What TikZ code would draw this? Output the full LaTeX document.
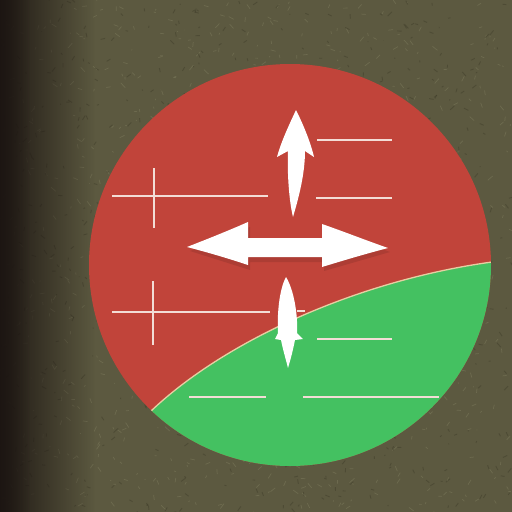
\documentclass[tikz,border=0pt]{standalone}
\usetikzlibrary{calc,fadings}
\definecolor{grass}{HTML}{5C5940}
\definecolor{grassdark}{HTML}{1C1512}
\definecolor{grasslight}{HTML}{8E8C6C}
\definecolor{grassdeep}{HTML}{3A3826}
\definecolor{discred}{HTML}{C1443A}
\definecolor{discgreen}{HTML}{44C161}
\definecolor{mark}{HTML}{F3DDD6}
\definecolor{seam}{HTML}{E6CFA2}
\tikzfading[name=fadeleft, left color=transparent!0, right color=transparent!100]
\tikzset{
  markline/.style={draw=mark, line width=1.8pt},
  arrowshape/.style={fill=white, draw=none},
}
\begin{document}
\begin{tikzpicture}[x=1pt,y=-1pt]
\useasboundingbox (0,0) rectangle (512,512);
% grass background
\fill[grass] (0,0) rectangle (512,512);
\pgfmathsetseed{7}
\foreach \i in {1,...,900}{
  \pgfmathsetmacro{\xa}{rnd*512}
  \pgfmathsetmacro{\ya}{rnd*512}
  \pgfmathsetmacro{\dx}{(rnd-0.5)*10}
  \pgfmathsetmacro{\dy}{(rnd-0.5)*10}
  \draw[grasslight, opacity=0.35, line width=0.7pt] (\xa,\ya) -- ++(\dx,\dy);
}
\foreach \i in {1,...,700}{
  \pgfmathsetmacro{\xa}{rnd*512}
  \pgfmathsetmacro{\ya}{rnd*512}
  \pgfmathsetmacro{\dx}{(rnd-0.5)*9}
  \pgfmathsetmacro{\dy}{(rnd-0.5)*9}
  \draw[grassdeep, opacity=0.4, line width=0.9pt] (\xa,\ya) -- ++(\dx,\dy);
}
\fill[grassdark, path fading=fadeleft, fill opacity=0.95] (0,0) rectangle (95,512);
\fill[grassdark, path fading=fadeleft, fill opacity=0.7] (0,0) rectangle (30,512);
% disc
\coordinate (c) at (290,265);
\fill[discred] (c) circle[radius=201];
\begin{scope}
  \clip (c) circle[radius=201];
  \fill[discgreen] (150,412) .. controls (225,340) and (360,280) .. (492,262)
      -- (520,262) -- (520,520) -- (100,520) -- (100,440) -- cycle;
  \draw[seam, line width=1.3pt] (150,412) .. controls (225,340) and (360,280) .. (492,262);
\end{scope}
% marking lines
\draw[markline] (317,140) -- (392,140);
\draw[markline] (316,198) -- (392,198);
\draw[markline] (112,196) -- (268,196);
\draw[markline] (154,168) -- (154,228);
\draw[markline] (112,312) -- (270,312);
\draw[markline] (297,311) -- (305,311);
\draw[markline] (153,281) -- (153,345);
\draw[markline] (317,339) -- (392,339);
\draw[markline] (189,397) -- (266,397);
\draw[markline] (303,397) -- (439,397);
% up arrow
\fill[arrowshape] (296,110) .. controls (289,125) and (281,142) .. (277,157)
   -- (288,151) .. controls (287,180) and (290,205) .. (293,217)
   .. controls (298,200) and (305,175) .. (305,151)
   -- (314,157) .. controls (310,140) and (302,122) .. (296,110) -- cycle;
% horizontal double arrow
\fill[black, opacity=0.10] (190,251) -- (250,227) -- (250,242) -- (324,242) -- (324,228) -- (390,252) -- (324,271) -- (324,262) -- (250,262) -- (250,270) -- cycle;
\fill[arrowshape] (187,247) .. controls (210,238) and (230,230) .. (248,222)
   -- (248,238) -- (322,238) -- (322,224)
   .. controls (345,232) and (365,240) .. (388,248)
   .. controls (365,254) and (345,260) .. (322,267)
   -- (322,257) -- (248,257) -- (248,265)
   .. controls (230,259) and (210,253) .. (187,247) -- cycle;
% lower arrow
\fill[arrowshape] (286,277) .. controls (279,290) and (277,315) .. (278,333)
   -- (275,339) -- (281,340) .. controls (283,350) and (286,360) .. (288,368)
   .. controls (291,358) and (293,350) .. (295,340)
   -- (303,339) -- (297,333) .. controls (298,315) and (294,290) .. (286,277) -- cycle;
\end{tikzpicture}
\end{document}
